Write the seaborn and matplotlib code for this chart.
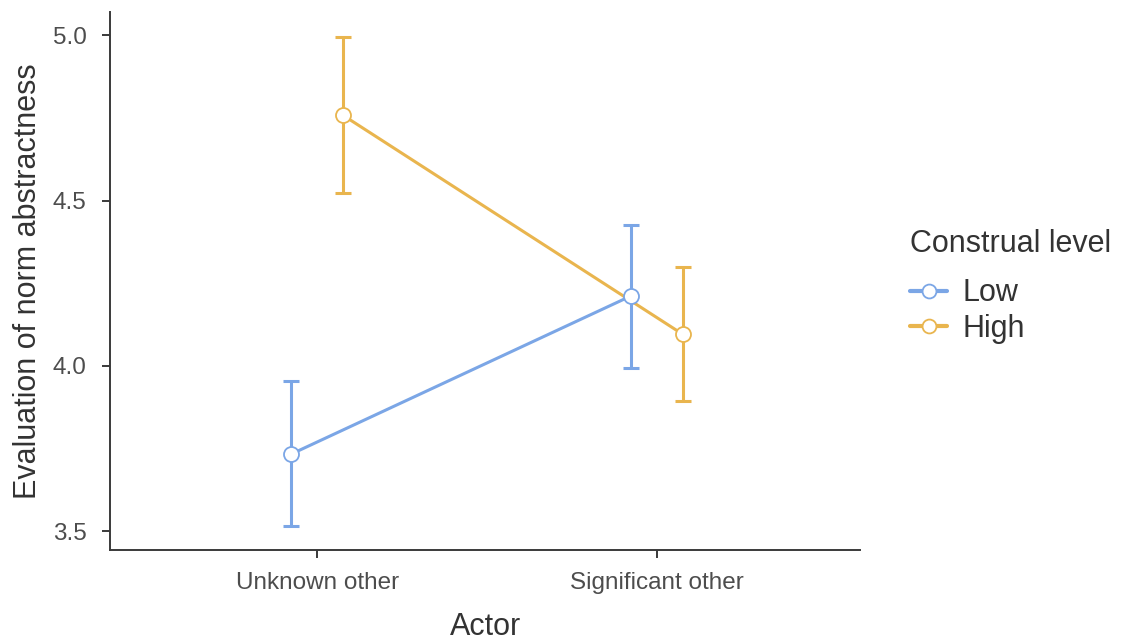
import matplotlib
matplotlib.use("Agg")
import matplotlib.pyplot as plt
from matplotlib.lines import Line2D
import pandas as pd
import seaborn as sns

ACTORS = ["Unknown other", "Significant other"]
LEVELS = ["Low", "High"]
LOW_MEAN = [3.733, 4.211]
LOW_LOWER = [3.515, 3.993]
LOW_UPPER = [3.954, 4.425]
HIGH_MEAN = [4.758, 4.096]
HIGH_LOWER = [4.522, 3.893]
HIGH_UPPER = [4.994, 4.298]
YTICKS = [3.5, 4.0, 4.5, 5.0]

PALETTE = {"Low": "#7BA6E6", "High": "#E9B54E"}
AXIS_GREY = "#3a3a3a"
TEXT_GREY = "#4d4d4d"


def build_table() -> pd.DataFrame:
    rows = []
    for level, means, lows, highs in (
        ("Low", LOW_MEAN, LOW_LOWER, LOW_UPPER),
        ("High", HIGH_MEAN, HIGH_LOWER, HIGH_UPPER),
    ):
        for actor, m, lo, hi in zip(ACTORS, means, lows, highs):
            rows.append({"actor": actor, "level": level, "mean": m, "lower": lo, "upper": hi})
    return pd.DataFrame(rows)


def main() -> None:
    df = build_table()

    sns.set_theme(style="ticks")
    plt.rcParams["font.family"] = ["Liberation Sans", "DejaVu Sans"]

    fig = plt.figure(figsize=(11.23, 6.41), dpi=100)
    ax = fig.add_axes([0.098, 0.142, 0.668, 0.839])

    sns.pointplot(
        data=df,
        x="actor",
        y="mean",
        hue="level",
        order=ACTORS,
        hue_order=LEVELS,
        palette=PALETTE,
        dodge=0.153,
        errorbar=None,
        markers="o",
        markersize=0,
        linewidth=2.2,
        ax=ax,
        legend=False,
    )

    # error bars and hollow markers at the dodged positions seaborn chose
    data_lines = [ln for ln in ax.lines if len(ln.get_xdata()) == len(ACTORS)]
    for level, line in zip(LEVELS, data_lines):
        sub = df[df["level"] == level].set_index("actor").loc[ACTORS]
        xs = line.get_xdata()
        color = PALETTE[level]
        ax.errorbar(
            xs,
            sub["mean"],
            yerr=[sub["mean"] - sub["lower"], sub["upper"] - sub["mean"]],
            fmt="none",
            ecolor=color,
            elinewidth=2.2,
            capsize=6,
            capthick=2.2,
            zorder=3,
        )
        ax.plot(
            xs,
            sub["mean"],
            linestyle="none",
            marker="o",
            markersize=10.8,
            markerfacecolor="white",
            markeredgecolor=color,
            markeredgewidth=1.3,
            zorder=4,
        )

    ax.set_xlim(-0.61, 1.6)
    ax.set_ylim(3.443, 5.07)
    ax.set_yticks(YTICKS)
    ax.set_yticklabels([f"{t:.1f}" for t in YTICKS])

    sns.despine(ax=ax)
    for side in ("left", "bottom"):
        ax.spines[side].set_color(AXIS_GREY)
        ax.spines[side].set_linewidth(1.4)
    ax.tick_params(axis="both", colors=AXIS_GREY, width=1.4, length=6, labelsize=17.5, labelcolor=TEXT_GREY)
    ax.tick_params(axis="y", pad=11)
    ax.tick_params(axis="x", pad=10)

    ax.set_xlabel("Actor", fontsize=22, color="#333333", labelpad=13)
    ax.set_ylabel("Evaluation of norm abstractness", fontsize=22, color="#333333", labelpad=7)

    handles = [
        Line2D([], [], color=PALETTE[lv], linewidth=3, marker="o", markersize=10,
               markerfacecolor="white", markeredgecolor=PALETTE[lv], markeredgewidth=1.3)
        for lv in LEVELS
    ]
    leg = ax.legend(
        handles,
        LEVELS,
        title="Construal level",
        loc="center left",
        bbox_to_anchor=(1.03, 0.49),
        frameon=False,
        fontsize=22,
        title_fontsize=22,
        handlelength=1.2,
        handletextpad=0.5,
        labelspacing=0.18,
        alignment="left",
    )
    leg._legend_box.sep = 14
    for text in leg.get_texts():
        text.set_color("#333333")
    leg.get_title().set_color("#333333")

    fig.savefig("out.png", dpi=100)
    plt.close(fig)


if __name__ == "__main__":
    main()
